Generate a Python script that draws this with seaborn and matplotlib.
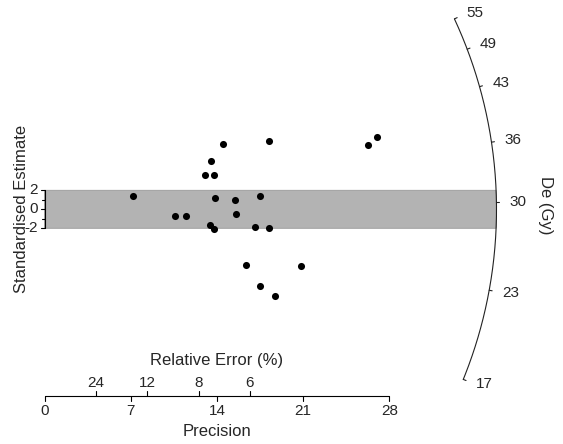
import numpy as np
import pandas as pd
import matplotlib
matplotlib.use("Agg")
import matplotlib.pyplot as plt
import seaborn as sns

# ---- data ----
precision = [7.21, 10.57, 11.49, 13.46, 13.76, 13.86, 13.03, 13.73, 13.49, 14.51, 18.20,
             15.46, 15.54, 17.49, 17.09, 18.20, 16.36, 20.82, 17.49, 18.71, 26.28, 26.99]
std_estimate = [1.40, -0.67, -0.67, -1.65, -2.07, 1.19, 3.61, 3.61, 5.05, 6.87, 7.22,
                0.95, -0.49, 1.43, -1.83, -2.00, -5.86, -5.94, -8.04, -9.13, 6.74, 7.58]
x_ticks = [0, 7, 14, 21, 28]
rel_error_ticks = [24, 12, 8, 6]
y_ticks = [-2, 0, 2]
y_minor_ticks = [-1, 1]
z_ticks = [17, 23, 30, 36, 43, 49, 55]
z_central = 29.4

sns.set_theme(style="white")
plt.rcParams['font.family'] = ['Liberation Sans', 'DejaVu Sans']

W, H = 563, 444
fig = plt.figure(figsize=(W / 100, H / 100), dpi=100)
ax = fig.add_axes([0, 0, 1, 1])
ox, oy = 44.5, 209.3          # pixel position of the plot origin
sx, sy = 12.32, 9.5           # pixels per unit
ax.set_xlim(-ox / sx, (W - ox) / sx)
ax.set_ylim(-(H - oy) / sy, oy / sy)
ax.axis('off')

R = 452.0                     # arc radius in pixels
a, b = R / sx, R / sy
z_scale = 0.9617


def z_slope(v):
    return z_scale * (np.log(v) - np.log(z_central))


def arc_point(m, grow=0.0):
    f = (R + grow) / R
    x = 1.0 / np.sqrt(1.0 / a ** 2 + m ** 2 / b ** 2)
    return x * f, m * x * f


lw = 0.8
col = 'black'
tick_fs = 11
lab_fs = 12

# ---- 2-sigma band ----
yb = np.linspace(2, -2, 50)
xb = a * np.sqrt(1 - (yb / b) ** 2)
poly_x = np.concatenate([[0, 0], xb])
poly_y = np.concatenate([[-2, 2], yb])
ax.fill(poly_x, poly_y, facecolor='#b3b3b3', edgecolor='#999999', linewidth=0.6, zorder=1)

# ---- points ----
df = pd.DataFrame({'precision': precision, 'std': std_estimate})
sns.scatterplot(data=df, x='precision', y='std', color='black', s=26,
                linewidth=0, ax=ax, zorder=3, legend=False)
ax.set_xlim(-ox / sx, (W - ox) / sx)
ax.set_ylim(-(H - oy) / sy, oy / sy)
ax.axis('off')

# ---- radial (De) axis ----
ms = np.linspace(z_slope(max(z_ticks)), z_slope(min(z_ticks)), 300)
arc = np.array([arc_point(m) for m in ms])
ax.plot(arc[:, 0], arc[:, 1], color='#222222', lw=lw, zorder=2)
for v in z_ticks:
    m = z_slope(v)
    p0 = arc_point(m)
    p1 = arc_point(m, 3.0)
    ax.plot([p0[0], p1[0]], [p0[1], p1[1]], color='#222222', lw=lw)
    pl = arc_point(m, 13.5)
    ax.text(pl[0], pl[1], f"{v}", ha='left', va='center', fontsize=tick_fs)
ax.text((546 - ox) / sx, (oy - 205) / sy, "De (Gy)", rotation=270,
        ha='center', va='center', fontsize=lab_fs)

# ---- bottom precision / relative error axis ----
y_ax = -(396 - oy) / sy
ax.plot([min(x_ticks), max(x_ticks)], [y_ax, y_ax], color=col, lw=lw)
for t in x_ticks:
    ax.plot([t, t], [y_ax, y_ax - 4.5 / sy], color=col, lw=lw)
    ax.text(t, -(410.5 - oy) / sy, f"{t}", ha='center', va='center', fontsize=tick_fs)
for r in rel_error_ticks:
    xp = 100.0 / r
    ax.plot([xp, xp], [y_ax, y_ax + 5 / sy], color=col, lw=lw)
    ax.text(xp, -(382.5 - oy) / sy, f"{r}", ha='center', va='center', fontsize=tick_fs)
mid = (min(x_ticks) + max(x_ticks)) / 2
ax.text(mid, -(360.7 - oy) / sy, "Relative Error (%)", ha='center', va='center', fontsize=lab_fs)
ax.text(mid, -(431.7 - oy) / sy, "Precision", ha='center', va='center', fontsize=lab_fs)

# ---- left standardised estimate axis ----
ax.plot([0, 0], [min(y_ticks), max(y_ticks)], color=col, lw=lw)
for t in y_ticks:
    ax.plot([0, -4 / sx], [t, t], color=col, lw=lw)
    ax.text(-7 / sx, t, f"{t}", ha='right', va='center', fontsize=tick_fs)
for t in y_minor_ticks:
    ax.plot([0, -2.2 / sx], [t, t], color=col, lw=lw)
ax.text((21.5 - ox) / sx, (oy - 209) / sy, "Standardised Estimate", rotation=90,
        ha='center', va='center', fontsize=lab_fs)

fig.savefig("out.png", dpi=100)
